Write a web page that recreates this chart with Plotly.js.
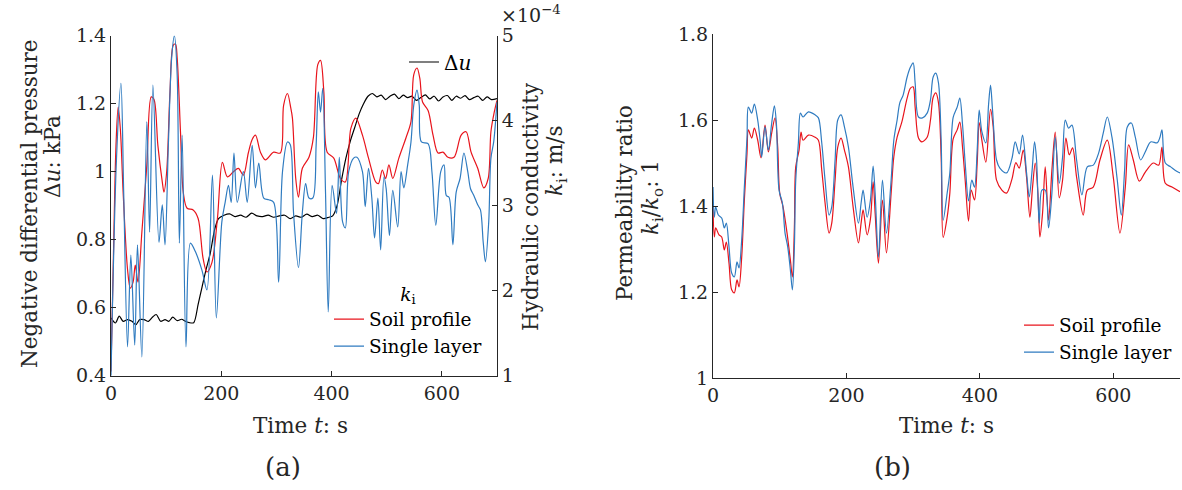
<!DOCTYPE html>
<html>
<head>
<meta charset="utf-8">
<script src="https://cdn.plot.ly/plotly-3.0.1.min.js"></script>
<style>html,body{margin:0;padding:0;background:#fff;}#chart{width:1182px;height:490px;}</style>
</head>
<body>
<div id="chart"></div>
<script>
// ---------- Panel (a): Δu (left axis, kPa) ----------
const duTime = [0,8,15,22,30,38,45,52,60,68,75,82,90,98,105,112,120,128,135,142,150,158,165,172,180,188,195,205,215,225,235,245,255,265,275,285,295,305,315,325,335,345,355,365,375,385,395,402,410,418,426,434,442,450,458,466,474,482,490,498,506,514,522,530,538,546,554,562,570,578,586,594,602,610,618,626,634,642,650,658,666,674,682,690,700];
const duValue = [0.57,0.555,0.575,0.56,0.565,0.56,0.55,0.565,0.565,0.56,0.572,0.58,0.56,0.565,0.56,0.572,0.562,0.566,0.56,0.556,0.556,0.61,0.66,0.71,0.76,0.83,0.862,0.872,0.876,0.868,0.872,0.866,0.878,0.87,0.868,0.872,0.866,0.87,0.872,0.862,0.87,0.866,0.875,0.868,0.872,0.862,0.866,0.87,0.9,0.975,1.04,1.09,1.13,1.17,1.2,1.222,1.23,1.22,1.225,1.212,1.222,1.228,1.215,1.225,1.218,1.222,1.21,1.218,1.226,1.214,1.222,1.208,1.22,1.224,1.21,1.222,1.216,1.224,1.212,1.218,1.222,1.21,1.22,1.212,1.215];

// ---------- Panel (a): k_i (right axis, ×10^-4 m/s) ----------
const soilTimeA = [0,5,9,13,17,22,30,35,40,44,49,56,65,73,78,85,93,96,101,107,113,117,120,126,131,138,149,158,167,174,183,193,202,211,222,231,240,249,256,262,271,280,295,307,313,320,326,329,335,340,347,359,367,375,380,386,392,404,416,425,435,444,456,467,480,485,492,498,504,511,522,535,544,549,555,560,565,575,584,593,602,611,622,635,644,653,665,676,684,689,695,700];
const soilKA = [1.05,2.6,3.7,4.16,3.9,3.16,2.25,2.03,2.1,2.30,2.10,2.69,3.48,4.28,4.25,3.71,3.28,3.16,3.40,4.34,4.89,4.9,4.74,3.87,3.16,2.97,2.95,2.85,2.38,2.22,2.33,2.85,3.51,3.34,3.40,3.44,3.36,3.62,3.78,3.83,3.63,3.54,3.63,3.62,4.18,4.32,4.15,4.03,3.32,3.10,3.44,3.57,3.80,4.66,4.71,4.34,3.63,3.56,3.32,3.28,3.91,4.03,3.83,3.56,3.28,3.26,3.42,3.32,3.48,3.32,3.56,3.80,3.99,4.54,4.62,4.50,4.22,4.12,3.83,3.62,3.63,3.57,3.57,3.83,3.87,3.63,3.44,3.21,3.32,3.87,4.10,4.24];
const singleTimeA = [0,10,18,23,30,36,43,48,56,65,70,76,87,93,98,104,110,115,120,124,129,136,144,153,165,174,184,191,201,207,213,218,223,229,240,247,256,262,268,277,286,295,304,311,320,325,331,340,347,353,359,366,372,376,380,384,389,394,401,409,414,420,425,431,440,446,456,461,467,473,478,484,489,495,499,505,511,520,526,531,538,544,549,555,559,563,575,582,589,598,604,608,613,620,626,633,640,647,652,658,665,670,675,679,685,689,694,700];
const singleKA = [1.0,3.56,4.44,3.16,1.34,2.42,1.36,2.54,1.22,3.99,2.69,4.42,2.57,3.01,2.54,3.71,4.74,5.0,4.54,2.56,3.83,1.34,2.56,2.46,2.24,2.01,3.36,1.68,2.81,3.04,3.24,3.04,3.62,3.04,3.40,3.04,3.71,3.21,3.50,3.09,3.07,3.04,2.10,3.40,3.75,3.72,2.92,2.27,2.92,3.26,3.09,3.09,3.71,4.34,4.10,4.38,3.16,1.75,3.24,2.91,3.57,2.81,2.74,3.40,3.56,3.57,3.40,2.99,3.44,3.09,2.62,3.09,2.48,3.34,3.20,2.65,3.18,2.75,3.40,3.21,3.48,3.75,4.18,4.36,4.18,3.75,3.73,3.40,2.77,3.40,3.48,3.12,3.10,2.54,3.16,3.32,3.62,3.40,3.20,3.12,3.01,2.95,2.57,2.34,2.81,3.56,3.75,4.22];

// ---------- Panel (b): permeability ratio k_i/k_o ----------
const soilTimeB = [0,2,4,9,13,17,20,24,28,32,36,39,43,47,51,53,58,62,67,72,78,83,88,93,97,100,105,111,116,119,122,124,129,132,135,143,153,158,163,168,174,178,183,187,192,197,203,210,218,222,225,231,236,240,243,248,254,260,267,271,276,283,291,296,300,303,308,313,321,326,330,334,338,342,345,351,355,360,366,370,374,378,383,387,392,396,399,403,409,416,420,425,433,440,448,454,459,465,470,475,479,483,487,490,494,498,503,508,513,519,524,529,534,539,545,555,561,570,580,591,600,610,618,623,630,639,648,660,668,673,678,688,700];
const soilRatioB = [1.398,1.328,1.349,1.333,1.328,1.298,1.316,1.267,1.205,1.198,1.228,1.212,1.281,1.414,1.523,1.577,1.558,1.581,1.553,1.512,1.588,1.526,1.570,1.605,1.537,1.430,1.398,1.337,1.274,1.235,1.351,1.491,1.530,1.572,1.553,1.565,1.560,1.553,1.484,1.407,1.337,1.360,1.460,1.537,1.558,1.530,1.491,1.398,1.314,1.360,1.391,1.333,1.370,1.456,1.384,1.267,1.414,1.291,1.430,1.514,1.560,1.595,1.651,1.674,1.677,1.630,1.558,1.549,1.560,1.600,1.653,1.663,1.640,1.514,1.327,1.374,1.430,1.556,1.577,1.595,1.537,1.460,1.365,1.437,1.414,1.500,1.594,1.553,1.502,1.625,1.584,1.460,1.437,1.430,1.462,1.501,1.488,1.530,1.467,1.374,1.444,1.500,1.430,1.328,1.384,1.491,1.367,1.484,1.572,1.419,1.460,1.558,1.519,1.535,1.467,1.379,1.437,1.444,1.507,1.553,1.467,1.337,1.444,1.542,1.507,1.458,1.479,1.500,1.495,1.537,1.453,1.444,1.433];
const singleTimeB = [0,2,4,8,13,17,20,24,28,32,36,39,43,47,51,53,58,62,67,71,73,78,83,88,92,95,99,104,108,112,116,119,122,124,128,131,135,143,153,158,163,168,174,178,183,187,192,197,203,210,218,222,225,231,236,240,243,248,254,260,267,271,276,280,285,291,296,300,303,308,314,321,326,330,334,338,342,345,351,355,360,366,370,374,378,383,388,392,396,399,403,409,413,416,419,425,430,440,448,453,459,464,470,474,478,482,485,489,493,498,503,508,513,519,524,528,533,538,545,553,561,570,578,585,591,598,606,612,617,621,627,633,641,648,656,666,670,673,678,686,695,700];
const singleRatioB = [1.444,1.374,1.398,1.379,1.372,1.349,1.360,1.305,1.244,1.235,1.270,1.256,1.321,1.444,1.560,1.630,1.616,1.637,1.600,1.547,1.514,1.584,1.530,1.593,1.633,1.593,1.437,1.407,1.337,1.305,1.251,1.205,1.305,1.460,1.547,1.616,1.607,1.619,1.612,1.605,1.547,1.460,1.379,1.398,1.507,1.600,1.612,1.584,1.537,1.444,1.360,1.407,1.437,1.374,1.414,1.493,1.430,1.281,1.460,1.337,1.460,1.553,1.600,1.640,1.658,1.700,1.723,1.733,1.686,1.607,1.605,1.616,1.647,1.700,1.709,1.686,1.553,1.367,1.430,1.477,1.606,1.630,1.651,1.590,1.500,1.412,1.460,1.444,1.530,1.623,1.573,1.547,1.635,1.681,1.623,1.507,1.488,1.477,1.510,1.549,1.521,1.565,1.477,1.421,1.477,1.549,1.507,1.360,1.437,1.437,1.349,1.430,1.560,1.453,1.514,1.600,1.581,1.588,1.507,1.426,1.491,1.495,1.523,1.570,1.607,1.560,1.460,1.379,1.484,1.584,1.593,1.560,1.507,1.526,1.549,1.547,1.560,1.577,1.500,1.491,1.481,1.477];

// ---------- tick labels ----------
const xTicks = [0,200,400,600];
const xTickText = ['0','200','400','600'];
const duTicks = [0.4,0.6,0.8,1.0,1.2,1.4];
const duTickText = ['0.4','0.6','0.8','1','1.2','1.4'];
const kTicks = [1,2,3,4,5];
const kTickText = ['1','2','3','4','5'];
const ratioTicks = [1.0,1.2,1.4,1.6,1.8];
const ratioTickText = ['1','1.2','1.4','1.6','1.8'];

// ---------- styling ----------
const W = 1182, H = 490;
const FONT = 'DejaVu Serif';
const INK = '#262626';
const RED = '#e8141c';
const BLUE = '#2f7bc0';
const px = x => x / W;
const py = y => 1 - y / H;

const axisBase = {
  showgrid: false, zeroline: false, showline: true, linecolor: INK, linewidth: 1,
  ticks: 'inside', ticklen: 5, tickwidth: 1, tickcolor: INK,
  tickfont: {family: FONT, size: 19, color: INK}, automargin: false, fixedrange: true
};

const lineBase = {mode: 'lines', type: 'scatter', hoverinfo: 'skip'};

const traces = [
  Object.assign({}, lineBase, {x: duTime, y: duValue, xaxis: 'x', yaxis: 'y', name: 'Δ<i>u</i>',
    line: {color: '#000', width: 1.2, shape: 'spline', smoothing: 0.8}, legend: 'legend'}),
  Object.assign({}, lineBase, {x: soilTimeA, y: soilKA, xaxis: 'x', yaxis: 'y2', name: 'Soil profile',
    line: {color: RED, width: 1.2, shape: 'spline', smoothing: 0.9}, legend: 'legend2'}),
  Object.assign({}, lineBase, {x: singleTimeA, y: singleKA, xaxis: 'x', yaxis: 'y2', name: 'Single layer',
    line: {color: BLUE, width: 1.2, shape: 'spline', smoothing: 0.9}, legend: 'legend2'}),
  Object.assign({}, lineBase, {x: soilTimeB, y: soilRatioB, xaxis: 'x2', yaxis: 'y3', name: 'Soil profile',
    line: {color: RED, width: 1.2, shape: 'spline', smoothing: 0.9}, legend: 'legend3'}),
  Object.assign({}, lineBase, {x: singleTimeB, y: singleRatioB, xaxis: 'x2', yaxis: 'y3', name: 'Single layer',
    line: {color: BLUE, width: 1.2, shape: 'spline', smoothing: 0.9}, legend: 'legend3'})
];

const legFont = {family: FONT, size: 18.5, color: '#000'};
const legBase = {bgcolor: 'rgba(0,0,0,0)', borderwidth: 0, font: legFont, xanchor: 'left', yanchor: 'middle',
  itemclick: false, itemdoubleclick: false, tracegroupgap: 0};

const ann = (text, x, y, opts) => Object.assign({
  text: text, x: px(x), y: py(y), xref: 'paper', yref: 'paper', showarrow: false,
  xanchor: 'center', yanchor: 'middle', font: {family: FONT, size: 21.5, color: INK}
}, opts || {});

const layout = {
  width: W, height: H, margin: {l: 0, r: 0, t: 0, b: 0},
  paper_bgcolor: '#fff', plot_bgcolor: 'rgba(0,0,0,0)', showlegend: true,
  xaxis: Object.assign({}, axisBase, {domain: [px(111), px(497)], range: [0, 700], anchor: 'y',
    tickvals: xTicks, ticktext: xTickText}),
  yaxis: Object.assign({}, axisBase, {domain: [py(375.7), py(35.7)], range: [0.4, 1.4], anchor: 'x',
    tickvals: duTicks, ticktext: duTickText}),
  yaxis2: Object.assign({}, axisBase, {overlaying: 'y', side: 'right', range: [1, 5], anchor: 'x',
    tickvals: kTicks, ticktext: kTickText}),
  xaxis2: Object.assign({}, axisBase, {domain: [px(713), px(1180)], range: [0, 700], anchor: 'y3',
    tickvals: xTicks, ticktext: xTickText}),
  yaxis3: Object.assign({}, axisBase, {domain: [py(378), py(34)], range: [1, 1.8], anchor: 'x2',
    tickvals: ratioTicks, ticktext: ratioTickText}),
  legend: Object.assign({}, legBase, {x: px(404), y: py(62), font: {family: FONT, size: 20, color: '#000'}}),
  legend2: Object.assign({}, legBase, {x: px(329), y: py(321),
    title: {text: '<i>k</i><sub>i</sub>', side: 'top center', font: legFont}}),
  legend3: Object.assign({}, legBase, {x: px(1019), y: py(339)}),
  annotations: [
    ann('Negative differential pressure', 29, 204, {textangle: -90}),
    ann('Δ<i>u</i>: kPa', 52, 157, {textangle: -90}),
    ann('Hydraulic conductivity', 531, 207, {textangle: -90}),
    ann('<i>k</i><sub>i</sub>: m/s', 557, 161, {textangle: -90}),
    ann('Permeability ratio', 624, 203, {textangle: -90}),
    ann('<i>k</i><sub>i</sub>/<i>k</i><sub>o</sub>: 1', 653, 198, {textangle: -90}),
    ann('Time <i>t</i>: s', 300, 425),
    ann('Time <i>t</i>: s', 946, 425),
    ann('(a)', 283, 467, {font: {family: FONT, size: 26, color: INK}}),
    ann('(b)', 893, 467, {font: {family: FONT, size: 26, color: INK}}),
    ann('×10<sup>−4</sup>', 499, 14, {xanchor: 'left', font: {family: FONT, size: 19, color: INK}})
  ]
};

Plotly.newPlot('chart', traces, layout, {staticPlot: true, displayModeBar: false});
</script>
</body>
</html>
